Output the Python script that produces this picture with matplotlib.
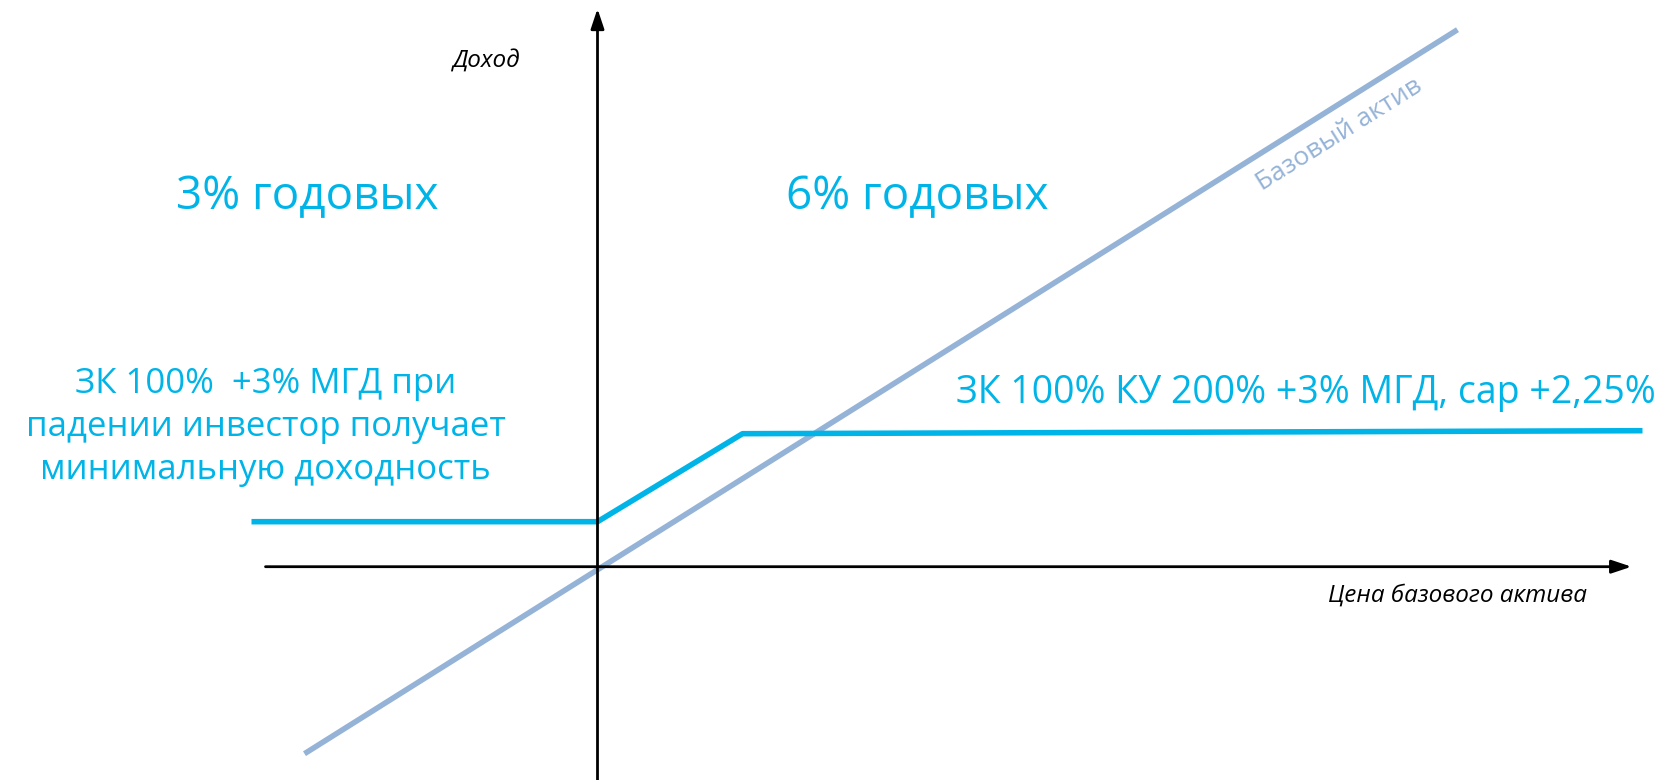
import matplotlib.pyplot as plt

plt.rcParams['font.family'] = ['Open Sans', 'DejaVu Sans']

# Schematic payoff chart, units are pixels relative to axis crossing
base_x = [-293, 860]
base_y = [-187, 537]

note_x = [-346, 0, 145, 1045]
note_y = [45, 45, 133, 136]

axis_x = [-332, 1034]
axis_y = [-214, 558]

cyan = '#00b4e8'
steel = '#95b3d7'

fig = plt.figure(figsize=(16.64, 7.8), dpi=100)
ax = fig.add_axes([0, 0, 1, 1])
ax.set_xlim(-597.5, 1066.5)
ax.set_ylim(-213.3, 566.7)
ax.axis('off')

# axes with arrows
ax.annotate('', xy=(axis_x[1], 0), xytext=(axis_x[0], 0),
            arrowprops=dict(arrowstyle='-|>,head_length=1.2,head_width=0.4',
                            color='black', lw=2, shrinkA=0, shrinkB=0))
ax.annotate('', xy=(0, axis_y[1]), xytext=(0, axis_y[0]),
            arrowprops=dict(arrowstyle='-|>,head_length=1.2,head_width=0.4',
                            color='black', lw=2, shrinkA=0, shrinkB=0))

ax.plot(base_x, base_y, color=steel, lw=4, solid_capstyle='butt')
ax.plot(note_x, note_y, color=cyan, lw=4, solid_capstyle='butt')

ax.text(-112, 505, 'Доход', fontsize=17.5, style='italic', ha='center', va='center')
ax.text(860, -29, 'Цена базового актива', fontsize=17.5, style='italic',
        ha='center', va='center')

ax.text(-290, 370, '3% годовых', fontsize=33, color=cyan, ha='center', va='center')
ax.text(320, 370, '6% годовых', fontsize=33, color=cyan, ha='center', va='center')

ax.text(742, 432, 'Базовый актив', fontsize=19, color=steel, rotation=32.1,
        rotation_mode='anchor', ha='center', va='center')

ax.text(-332, 140, 'ЗК 100%  +3% МГД при\nпадении инвестор получает\nминимальную доходность',
        fontsize=25, color=cyan, ha='center', va='center', linespacing=1.34)
ax.text(1058, 174, 'ЗК 100% КУ 200% +3% МГД, cap +2,25%', fontsize=27,
        color=cyan, ha='right', va='center')

fig.savefig('out.png', dpi=100)
